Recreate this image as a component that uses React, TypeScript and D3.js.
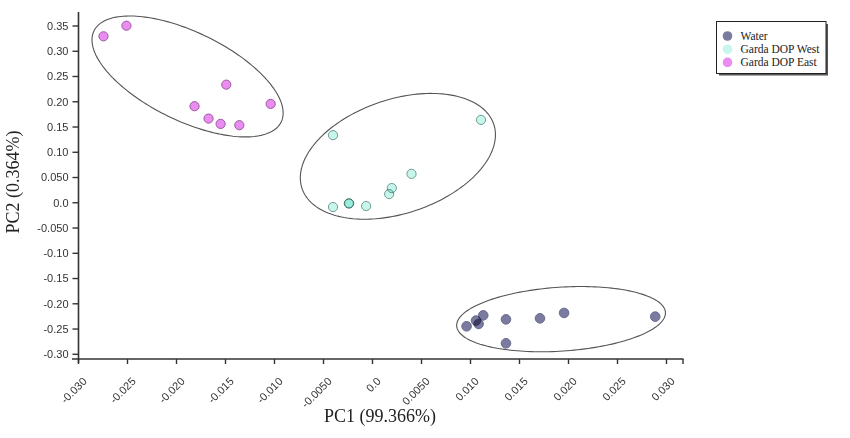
import React from "react";
import * as d3 from "d3";

// ---- data ----
const waterX = [0.0096, 0.01056, 0.01083, 0.0113, 0.01362, 0.01362, 0.01709, 0.01955, 0.02885];
const waterY = [-0.2446, -0.2333, -0.2399, -0.2229, -0.2308, -0.2782, -0.2288, -0.2181, -0.2254];

const westX = [-0.00403, 0.01107, 0.00398, 0.00197, 0.0017, -0.00403, -0.00242, -0.00238, -0.00065];
const westY = [0.1339, 0.1641, 0.0573, 0.0291, 0.0172, -0.0085, -0.0014, -0.0012, -0.0065];

const eastX = [-0.02745, -0.02511, -0.01816, -0.01673, -0.0155, -0.01492, -0.01359, -0.01039];
const eastY = [0.3296, 0.3506, 0.1912, 0.1667, 0.1562, 0.2339, 0.1536, 0.1958];

// confidence ellipses: center, and two conjugate semi-axis vectors (data units)
const ellipseCenters = [
  [0.01924, -0.2304],
  [0.00259, 0.092],
  [-0.01887, 0.2501],
];
const ellipseAxisA = [
  [0.01065, 0.01355],
  [0.00978, 0.0637],
  [0.00955, -0.0902],
];
const ellipseAxisB = [
  [0.000215, -0.06314],
  [0.00186, -0.107],
  [-0.00198, -0.0787],
];

const seriesNames = ["Water", "Garda DOP West", "Garda DOP East"];
const seriesFill = ["#7b7ba0", "#c6f6ec", "#ea8cf0"];
const seriesStroke = ["#6a6a90", "#6f9a90", "#9a5aa0"];

const xTicks = [-0.03, -0.025, -0.02, -0.015, -0.01, -0.005, 0, 0.005, 0.01, 0.015, 0.02, 0.025, 0.03];
const xTickLabels = ["-0.030", "-0.025", "-0.020", "-0.015", "-0.010", "-0.0050", "0.0", "0.0050", "0.010", "0.015", "0.020", "0.025", "0.030"];
const yTicks = [0.35, 0.3, 0.25, 0.2, 0.15, 0.1, 0.05, 0, -0.05, -0.1, -0.15, -0.2, -0.25, -0.3];
const yTickLabels = ["0.35", "0.30", "0.25", "0.20", "0.15", "0.10", "0.050", "0.0", "-0.050", "-0.10", "-0.15", "-0.20", "-0.25", "-0.30"];

const xTitle = "PC1 (99.366%)";
const yTitle = "PC2 (0.364%)";

export default function App() {
  const W = 850, H = 438;
  const x = d3.scaleLinear().domain([-0.03, 0.03]).range([78.5, 666.5]);
  const y = d3.scaleLinear().domain([-0.3, 0.35]).range([354.3, 26]);
  const axisY = 359;
  const axisX = 78.5;

  const series = [
    { xs: waterX, ys: waterY, r: 4.8 },
    { xs: westX, ys: westY, r: 4.6 },
    { xs: eastX, ys: eastY, r: 4.6 },
  ];

  const line = d3.line<[number, number]>().x((d) => x(d[0])).y((d) => y(d[1])).curve(d3.curveLinearClosed);

  const ellipsePath = (i: number) => {
    const pts: [number, number][] = d3.range(0, 180).map((k) => {
      const t = (k / 180) * Math.PI * 2;
      return [
        ellipseCenters[i][0] + ellipseAxisA[i][0] * Math.cos(t) + ellipseAxisB[i][0] * Math.sin(t),
        ellipseCenters[i][1] + ellipseAxisA[i][1] * Math.cos(t) + ellipseAxisB[i][1] * Math.sin(t),
      ];
    });
    return line(pts) || "";
  };

  const tickFont = "Arial, 'Liberation Sans', sans-serif";
  const serif = "'Times New Roman', 'Liberation Serif', serif";

  return (
    <svg width={W} height={H} style={{ position: "absolute", left: 0, top: 0, background: "#fff" }}>
      <rect width={W} height={H} fill="#fff" />
      {/* axes */}
      <line x1={72} x2={683.5} y1={axisY} y2={axisY} stroke="#333" strokeWidth={1.6} />
      <line x1={axisX} x2={axisX} y1={12} y2={363} stroke="#333" strokeWidth={1.6} />
      {xTicks.map((t, i) => (
        <g key={"xt" + i}>
          <line x1={x(t)} x2={x(t)} y1={axisY} y2={axisY + 5} stroke="#333" strokeWidth={1.4} />
          <text
            transform={`translate(${x(t) + 9},${axisY + 23}) rotate(-45)`}
            textAnchor="end"
            fontFamily={tickFont}
            fontSize={11}
            fill="#333"
          >
            {xTickLabels[i]}
          </text>
        </g>
      ))}
      <line x1={683} x2={683} y1={axisY} y2={axisY + 5} stroke="#333" strokeWidth={1.4} />
      {yTicks.map((t, i) => (
        <g key={"yt" + i}>
          <line x1={axisX - 6} x2={axisX} y1={y(t)} y2={y(t)} stroke="#333" strokeWidth={1.4} />
          <text x={axisX - 10} y={y(t)} dy="0.35em" textAnchor="end" fontFamily={tickFont} fontSize={11} fill="#333">
            {yTickLabels[i]}
          </text>
        </g>
      ))}
      {/* titles */}
      <text x={380} y={422} textAnchor="middle" fontFamily={serif} fontSize={18} fill="#222">
        {xTitle}
      </text>
      <text transform="translate(19,182) rotate(-90)" textAnchor="middle" fontFamily={serif} fontSize={18} fill="#222">
        {yTitle}
      </text>
      {/* ellipses */}
      {ellipseCenters.map((_, i) => (
        <path key={"el" + i} d={ellipsePath(i)} fill="none" stroke="#555" strokeWidth={1.1} />
      ))}
      {/* points */}
      {series.map((s, si) =>
        s.xs.map((vx, j) => (
          <circle
            key={`p${si}-${j}`}
            cx={x(vx)}
            cy={y(s.ys[j])}
            r={s.r}
            fill={seriesFill[si]}
            stroke={seriesStroke[si]}
            strokeWidth={1}
            style={{ mixBlendMode: "multiply" }}
          />
        ))
      )}
      {/* legend */}
      <rect x={719} y={24} width={109} height={51.5} fill="#555" />
      <rect x={716.5} y={21.5} width={109.5} height={52} fill="#fff" stroke="#222" strokeWidth={1} />
      {seriesNames.map((n, i) => (
        <g key={"lg" + i}>
          <circle cx={727.5} cy={36 + i * 13.2} r={4.8} fill={seriesFill[i]} />
          <text x={740.5} y={36 + i * 13.2} dy="0.35em" fontFamily={serif} fontSize={11.5} fill="#222">
            {n}
          </text>
        </g>
      ))}
    </svg>
  );
}
